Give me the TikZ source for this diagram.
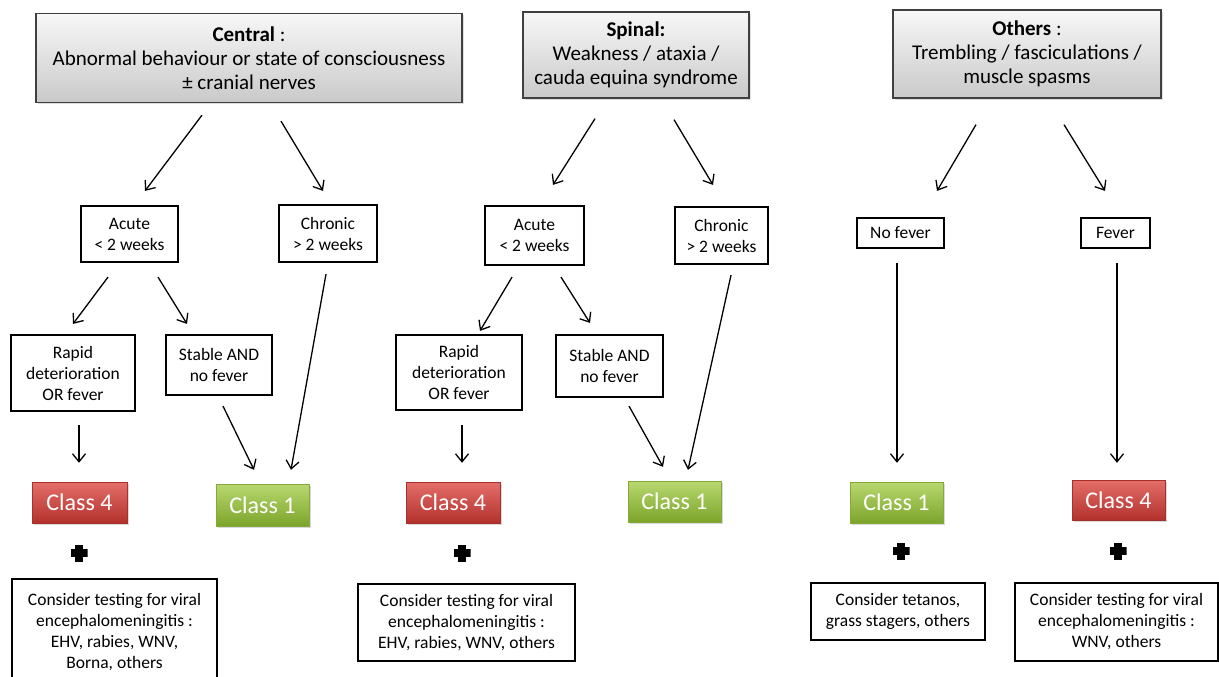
\documentclass[tikz,border=0pt]{standalone}
\usepackage{fontspec}
\setmainfont{Carlito}
\usepackage{tikz}
\usetikzlibrary{positioning,calc,shadows}
\usetikzlibrary{arrows.meta}

\definecolor{redtop}{HTML}{E46E69}
\definecolor{redbot}{HTML}{B3312D}
\definecolor{redline}{HTML}{A5302C}
\definecolor{greentop}{HTML}{B8D870}
\definecolor{greenbot}{HTML}{7CA52B}
\definecolor{greenline}{HTML}{86AA3A}

\begin{document}
\begin{tikzpicture}[
  x = 1pt,
  y = -1pt,
  topbox/.style = {
    draw = black!75,
    line width = 1.3pt,
    top color = gray!6,
    bottom color = gray!42,
    drop shadow = {opacity=0.25, shadow xshift=2pt, shadow yshift=-2pt},
    align = center,
    inner sep = 0pt,
    font = \fontsize{21}{24}\selectfont,
  },
  stepbox/.style = {
    draw,
    line width = 2.2pt,
    fill = white,
    align = center,
    inner sep = 0pt,
    font = \fontsize{17.5}{21}\selectfont,
  },
  classfour/.style = {
    draw = redline,
    top color = redtop,
    bottom color = redbot,
    text = white,
    drop shadow = {opacity=0.3, shadow xshift=2pt, shadow yshift=-2pt},
    inner sep = 0pt,
    font = \fontsize{24}{28}\selectfont,
  },
  classone/.style = {
    draw = greenline,
    top color = greentop,
    bottom color = greenbot,
    text = white,
    drop shadow = {opacity=0.3, shadow xshift=2pt, shadow yshift=-2pt},
    inner sep = 0pt,
    font = \fontsize{24}{28}\selectfont,
  },
  plusmark/.style = {
    inner sep = 0pt,
    minimum size = 17pt,
    path picture = {
      \fill (path picture bounding box.center) +(-8.5,-3.7) rectangle +(8.5,3.7);
      \fill (path picture bounding box.center) +(-3.7,-8.5) rectangle +(3.7,8.5);
    },
  },
  >={Straight Barb[length=8pt,width=13pt]},
  arr/.style = {->, line width = 1.3pt},
]
  \useasboundingbox (0,0) rectangle (1219,677);

  \node[topbox, minimum width=426, minimum height=89] (central) at (249,58)
    {\textbf{Central} :\\Abnormal behaviour or state of consciousness\\± cranial nerves};
  \node[topbox, minimum width=226, minimum height=86] (spinal) at (636,55)
    {\textbf{Spinal:}\\Weakness / ataxia /\\cauda equina syndrome};
  \node[topbox, minimum width=268, minimum height=88] (others) at (1027,54)
    {\textbf{Others} :\\Trembling / fasciculations /\\muscle spasms};

  \node[stepbox, minimum width=97, minimum height=56] (acuteC) at (129.5,234) {Acute\\< 2 weeks};
  \node[stepbox, minimum width=98, minimum height=57] (chronicC) at (328,233.5) {Chronic\\> 2 weeks};
  \node[stepbox, minimum width=99, minimum height=59] (acuteS) at (534.5,235.5) {Acute\\< 2 weeks};
  \node[stepbox, minimum width=93, minimum height=57] (chronicS) at (721.5,235.5) {Chronic\\> 2 weeks};
  \node[stepbox, minimum width=87, minimum height=30] (nofever) at (900.5,233) {No fever};
  \node[stepbox, minimum width=69, minimum height=30] (fever) at (1115.5,233) {Fever};

  \node[stepbox, minimum width=124, minimum height=76] (rapidC) at (73,373) {Rapid\\deterioration\\OR fever};
  \node[stepbox, minimum width=106, minimum height=60] (stableC) at (219,365) {Stable AND\\no fever};
  \node[stepbox, minimum width=126, minimum height=75] (rapidS) at (459,372.5) {Rapid\\deterioration\\OR fever};
  \node[stepbox, minimum width=107, minimum height=62] (stableS) at (609.5,366) {Stable AND\\no fever};

  \node[classfour, minimum width=95, minimum height=41] (classfourC) at (79.5,502.5) {Class 4};
  \node[classone, minimum width=93, minimum height=42] (classoneC) at (262.5,505) {Class 1};
  \node[classfour, minimum width=94, minimum height=41] (classfourS) at (453,502.5) {Class 4};
  \node[classone, minimum width=93, minimum height=41] (classoneS) at (674.5,501.5) {Class 1};
  \node[classone, minimum width=93, minimum height=41] (classoneO) at (896.5,502.5) {Class 1};
  \node[classfour, minimum width=93, minimum height=40] (classfourO) at (1118.5,500) {Class 4};

  \node[plusmark] (plusC) at (79,553) {};
  \node[plusmark] (plusS) at (462,553) {};
  \node[plusmark] (plusO1) at (901,551) {};
  \node[plusmark] (plusO2) at (1118,551) {};

  \node[stepbox, minimum width=205, minimum height=106] (testC) at (114.5,632)
    {Consider testing for viral\\encephalomeningitis :\\EHV, rabies, WNV,\\Borna, others};
  \node[stepbox, minimum width=217, minimum height=77] (testS) at (466.5,622.5)
    {Consider testing for viral\\encephalomeningitis :\\EHV, rabies, WNV, others};
  \node[stepbox, minimum width=174, minimum height=57] (tetanos) at (898,611.5)
    {Consider tetanos,\\grass stagers, others};
  \node[stepbox, minimum width=203, minimum height=78] (testO) at (1116.5,622)
    {Consider testing for viral\\encephalomeningitis :\\WNV, others};

  \draw[arr] ([shift={(-47,12)}]central.south) -- ([shift={(15.5,-14)}]acuteC.north);
  \draw[arr] ([shift={(32,18)}]central.south) -- ([shift={(-5,-13)}]chronicC.north);
  \draw[arr] ([shift={(-41,20)}]spinal.south) -- ([shift={(18.5,-20)}]acuteS.north);
  \draw[arr] ([shift={(38,21)}]spinal.south) -- ([shift={(-8.5,-21)}]chronicS.north);
  \draw[arr] ([shift={(-51,26)}]others.south) -- ([shift={(36.5,-26)}]nofever.north);
  \draw[arr] ([shift={(37,26)}]others.south) -- ([shift={(-10.5,-26)}]fever.north);

  \draw[arr] ([shift={(-21.5,14)}]acuteC.south) -- ([shift={(0,-10)}]rapidC.north);
  \draw[arr] ([shift={(28.5,14)}]acuteC.south) -- ([shift={(-32,-10)}]stableC.north);
  \draw[arr] ([shift={(-2,11)}]chronicC.south) -- ([shift={(28.5,-14)}]classoneC.north);
  \draw[arr] ([shift={(-22.5,11)}]acuteS.south) -- ([shift={(21,-3)}]rapidS.north);
  \draw[arr] ([shift={(26.5,11)}]acuteS.south) -- ([shift={(-19.5,-11)}]stableS.north);
  \draw[arr] ([shift={(9.5,10)}]chronicS.south) -- ([shift={(13.5,-11)}]classoneS.north);
  \draw[arr] ([shift={(-3.5,14)}]nofever.south) -- ([shift={(0.5,-19)}]classoneO.north);
  \draw[arr] ([shift={(1.5,14)}]fever.south) -- ([shift={(-1.5,-17)}]classfourO.north);

  \draw[arr] ([shift={(6,13)}]rapidC.south) -- ([shift={(-0.5,-19)}]classfourC.north);
  \draw[arr] ([shift={(4,10)}]stableC.south) -- ([shift={(-8.5,-14)}]classoneC.north);
  \draw[arr] ([shift={(3,14)}]rapidS.south) -- ([shift={(9,-19)}]classfourS.north);
  \draw[arr] ([shift={(19.5,8)}]stableS.south) -- ([shift={(-11.5,-14)}]classoneS.north);
\end{tikzpicture}
\end{document}
